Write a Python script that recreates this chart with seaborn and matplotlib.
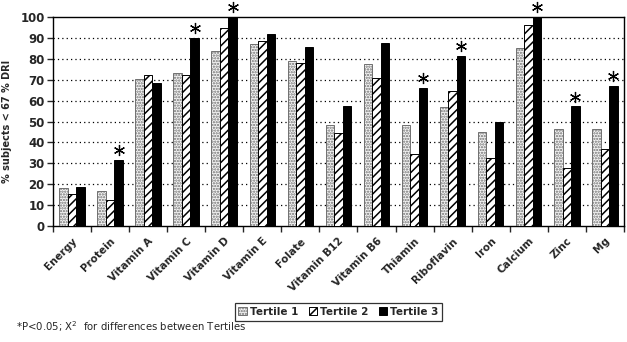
"""% subjects below 67 % of DRI by nutrient and tertile."""
import pandas as pd
import seaborn as sns
from matplotlib import pyplot as plt
from matplotlib.patches import Patch

nutrients = ["Energy", "Protein", "Vitamin A", "Vitamin C", "Vitamin D",
             "Vitamin E", "Folate", "Vitamin B12", "Vitamin B6", "Thiamin",
             "Riboflavin", "Iron", "Calcium", "Zinc", "Mg"]
tertile_1 = [18.2, 16.9, 70.2, 73.4, 83.7, 87.0, 79.0, 48.2, 77.6, 48.2,
             57.1, 45.0, 85.4, 46.6, 46.6]
tertile_2 = [15.2, 12.3, 72.2, 72.2, 94.6, 88.8, 77.9, 44.3, 70.7, 34.4,
             64.8, 32.5, 96.0, 28.0, 37.1]
tertile_3 = [18.9, 31.7, 68.6, 90.2, 100.0, 91.8, 85.9, 57.4, 87.4, 66.1,
             81.6, 50.0, 100.0, 57.4, 67.2]
significant = ["Protein", "Vitamin C", "Vitamin D", "Thiamin", "Riboflavin",
               "Calcium", "Zinc", "Mg"]
tertiles = ["Tertile 1", "Tertile 2", "Tertile 3"]

df = pd.DataFrame({"nutrient": nutrients * 3,
                   "pct": tertile_1 + tertile_2 + tertile_3,
                   "tertile": [t for t in tertiles for _ in nutrients]})

sns.set_style("white")
plt.rcParams["font.family"] = ["DejaVu Sans"]
plt.rcParams["hatch.linewidth"] = 1.1

fig = plt.figure(figsize=(6.27, 3.42), dpi=100)
ax = fig.add_axes([0.0845, 0.339, 0.9105, 0.611])

sns.barplot(data=df, x="nutrient", y="pct", hue="tertile", order=nutrients,
            hue_order=tertiles, palette=["#f4f4f4", "white", "black"],
            edgecolor="black", linewidth=0.7, width=0.67, gap=0,
            legend=False, ax=ax, zorder=3)
hatches = ["......", "////", ""]
for container, hatch in zip(ax.containers, hatches):
    for bar in container:
        bar.set_hatch(hatch)
for bar in ax.containers[0]:
    bar.set_edgecolor("#707070")

# significance stars above tertile 3
star_x = [i + 0.223 for i, n in enumerate(nutrients) if n in significant]
star_y = [tertile_3[i] + 4.6 for i, n in enumerate(nutrients) if n in significant]
ax.plot(star_x, star_y, ls="none", marker=(6, 2, 0), ms=8, mew=0.9,
        color="black", clip_on=False, zorder=5)

ax.set_ylim(0, 100)
ax.set_xlim(-0.5, len(nutrients) - 0.5)
ax.set_yticks(range(0, 101, 10))
ax.set_yticklabels([str(v) for v in range(0, 101, 10)], fontsize=8.5,
                   fontweight="bold")
for v in range(10, 100, 10):
    ax.axhline(v, color="black", lw=0.9, ls=(0, (1, 2.5)), zorder=1)
ax.tick_params(axis="y", direction="out", length=4, width=1, pad=2, left=True)
ax.set_xticks(range(len(nutrients)))
ax.set_xticklabels(nutrients, rotation=45, ha="right",
                   rotation_mode="anchor", fontsize=7.5, fontweight="bold")
ax.tick_params(axis="x", which="major", length=0, pad=7)
ax.set_xticks([i + 0.5 for i in range(-1, len(nutrients))], minor=True)
ax.tick_params(axis="x", which="minor", direction="out", length=4, width=1,
               bottom=True)
for s in ax.spines.values():
    s.set_color("black")
    s.set_linewidth(1)
ax.set_xlabel("")
ax.set_ylabel("% subjects < 67 % DRI", fontsize=7, fontweight="bold",
              labelpad=6)

handles = [Patch(facecolor="#f4f4f4", edgecolor="#707070", hatch="......",
                 lw=0.7),
           Patch(facecolor="white", edgecolor="black", hatch="////", lw=0.7),
           Patch(facecolor="black", edgecolor="black", lw=0.7)]
leg = fig.legend(handles, tertiles, loc="center", bbox_to_anchor=(0.54, 0.088),
                 ncol=3, frameon=True, fancybox=False, handlelength=0.8,
                 handleheight=0.8, handletextpad=0.3, columnspacing=1.0,
                 borderpad=0.35, prop={"size": 7.5, "weight": "bold"})
leg.get_frame().set_edgecolor("black")
leg.get_frame().set_linewidth(0.9)

fig.text(0.026, 0.044, "*P<0.05; X$^2$  for differences between Tertiles",
         fontsize=7.3, va="center", ha="left")

fig.savefig("out.png", dpi=100)
